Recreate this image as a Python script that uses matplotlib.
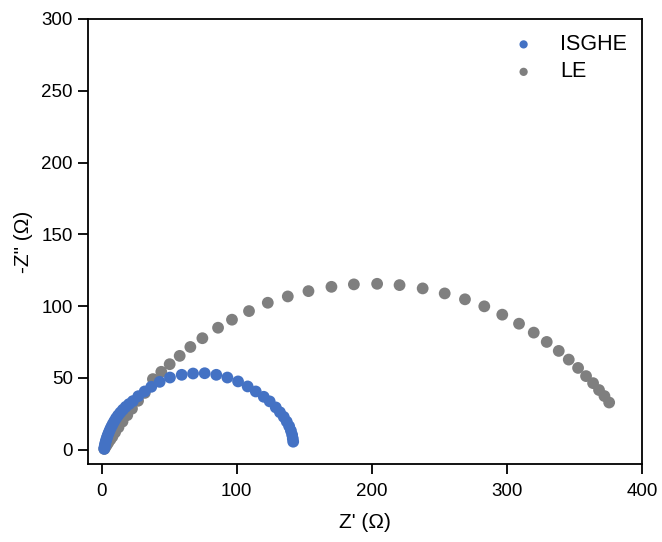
import matplotlib
matplotlib.use("Agg")
import matplotlib.pyplot as plt

plt.rcParams['font.family'] = ['Liberation Sans', 'DejaVu Sans']

# ISGHE impedance data (Z', -Z'')
isghe_re = [2, 2.2, 2.5, 2.8, 3.2, 3.7, 4.2, 4.8, 5.5, 6.3, 7.2, 8.2, 9.4, 10.7,
            12.2, 13.9, 15.8, 17.9, 20.3, 23.2, 27.2, 31.9, 36.8, 43, 50.6, 59.3,
            67.7, 76.3, 84.9, 93.1, 101, 108.1, 114.1, 120, 124.4, 128.9, 132,
            134.8, 137, 138.8, 140.1, 141, 141.5, 141.8]
isghe_im = [0.5, 1.8, 3.2, 4.6, 6, 7.5, 9, 10.6, 12.2, 14, 15.8, 17.7, 19.7, 21.8,
            23.8, 25.8, 27.8, 29.8, 31.7, 33.8, 37.2, 40.5, 43.75, 47.2, 50.2, 52.1,
            53.0, 53.2, 52.1, 50.2, 47.5, 44, 40.5, 36.8, 33.6, 29.4, 26,
            22.8, 19.5, 16.3, 13.2, 10.3, 7.7, 5.5]

# LE impedance data
le_re = [2, 3, 4, 5, 6.5, 8, 10, 12.5, 15.5, 19, 22.5, 27, 32, 38, 44.2, 50.4,
         57.8, 65.7, 74.6, 86.2, 96.5, 109.1, 123, 137.8, 153.1, 170.1, 186.7,
         203.9, 220.5, 237.6, 253.9, 268.9, 283.2, 296.5, 308.9, 319.8, 329.4,
         338.3, 345.7, 352.6, 358.5, 363.7, 368.1, 372.1, 375.6]
le_im = [0.5, 2, 3.5, 5, 7, 9, 12, 15.5, 19.5, 24, 28.5, 34, 39.5, 49.1, 54.2, 59.5,
         65.3, 71.5, 77.6, 84.9, 90.5, 96.5, 102.3, 106.7, 110.4, 113.4, 115.1,
         115.5, 114.6, 112.3, 108.8, 104.7, 99.8, 94.0, 87.7, 81.5, 75.0,
         68.75, 62.7, 56.9, 51.2, 46.3, 41.5, 37.3, 32.8]

fig = plt.figure(figsize=(6.62, 5.42), dpi=100)
ax = fig.add_axes([0.133, 0.144, 0.837, 0.821])

le = ax.scatter(le_re, le_im, s=72, color='#7f7f7f', edgecolors='none', zorder=2, label='LE')
isg = ax.scatter(isghe_re, isghe_im, s=72, color='#4472c4', edgecolors='none', zorder=3, label='ISGHE')

ax.set_xlim(-10, 400)
ax.set_ylim(-10, 300)
ax.set_xticks([0, 100, 200, 300, 400])
ax.set_yticks([0, 50, 100, 150, 200, 250, 300])
ax.tick_params(direction='out', length=7, width=1.3, labelsize=13.5)
ax.tick_params(axis='x', pad=7)
ax.tick_params(axis='y', pad=4)
for sp in ax.spines.values():
    sp.set_linewidth(1.3)

ax.set_xlabel("Z' (Ω)", fontsize=15, labelpad=9)
ax.set_ylabel('-Z" (Ω)', fontsize=15, labelpad=6)

ax.legend(handles=[isg, le], loc='upper right', frameon=False, fontsize=15.5,
          markerscale=0.7, handletextpad=0.7, labelspacing=0.3,
          borderaxespad=0.3, bbox_to_anchor=(1.0, 1.0))

fig.savefig('out.png', dpi=100)
